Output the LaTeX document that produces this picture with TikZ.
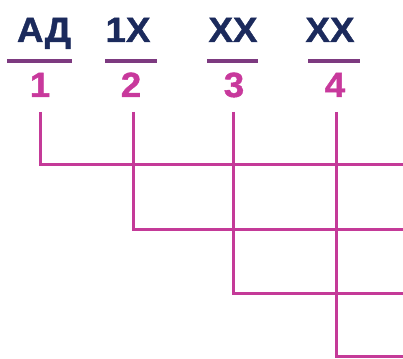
\documentclass[tikz,border=0pt]{standalone}
\usepackage{fontspec}
\setmainfont{Liberation Sans}
\newfontfamily\heavyfont{Liberation Sans}[FakeStretch=1.05,FakeBold=1.2]
\definecolor{navy}{HTML}{1B2A5C}
\definecolor{ulpurple}{HTML}{7D3A80}
\definecolor{numpink}{HTML}{C8399C}
\definecolor{linepink}{HTML}{C43A98}
\tikzset{
  codetext/.style={anchor=base, inner sep=0pt, font=\heavyfont\fontsize{35}{35}\selectfont\bfseries, text=navy},
  numtext/.style={anchor=base, inner sep=0pt, font=\heavyfont\fontsize{35}{35}\selectfont\bfseries, text=numpink},
  underline/.style={draw=ulpurple, line width=3.5pt},
  tree/.style={draw=linepink, line width=3pt}
}
\begin{document}
\begin{tikzpicture}[x=1pt,y=-1pt]
\useasboundingbox (0,0) rectangle (403,358);
% codes
\node[codetext] (c1) at (44,42) {АД};
\node[codetext] (c2) at (128,42) {1X};
\node[codetext] (c3) at (233,42) {XX};
\node[codetext] (c4) at (330,42) {XX};
% underlines
\coordinate (u1a) at (7,61); \coordinate (u1b) at (72,61);
\coordinate (u2a) at (105,61); \coordinate (u2b) at (157,61);
\coordinate (u3a) at (207,61); \coordinate (u3b) at (258,61);
\coordinate (u4a) at (308,61); \coordinate (u4b) at (360,61);
\draw[underline] (u1a) -- (u1b);
\draw[underline] (u2a) -- (u2b);
\draw[underline] (u3a) -- (u3b);
\draw[underline] (u4a) -- (u4b);
% numbers
\node[numtext] (n1) at (40,97) {1};
\node[numtext] (n2) at (131,97) {2};
\node[numtext] (n3) at (234,97) {3};
\node[numtext] (n4) at (335,97) {4};
% tree lines
\coordinate (s1) at (40,112);
\coordinate (s2) at (133,112);
\coordinate (s3) at (233,112);
\coordinate (s4) at (336,112);
\coordinate (e1) at (404,164);
\coordinate (e2) at (404,229);
\coordinate (e3) at (404,293);
\coordinate (e4) at (404,356);
\draw[tree] (s1) |- (e1);
\draw[tree] (s2) |- (e2);
\draw[tree] (s3) |- (e3);
\draw[tree] (s4) |- (e4);
\end{tikzpicture}
\end{document}
